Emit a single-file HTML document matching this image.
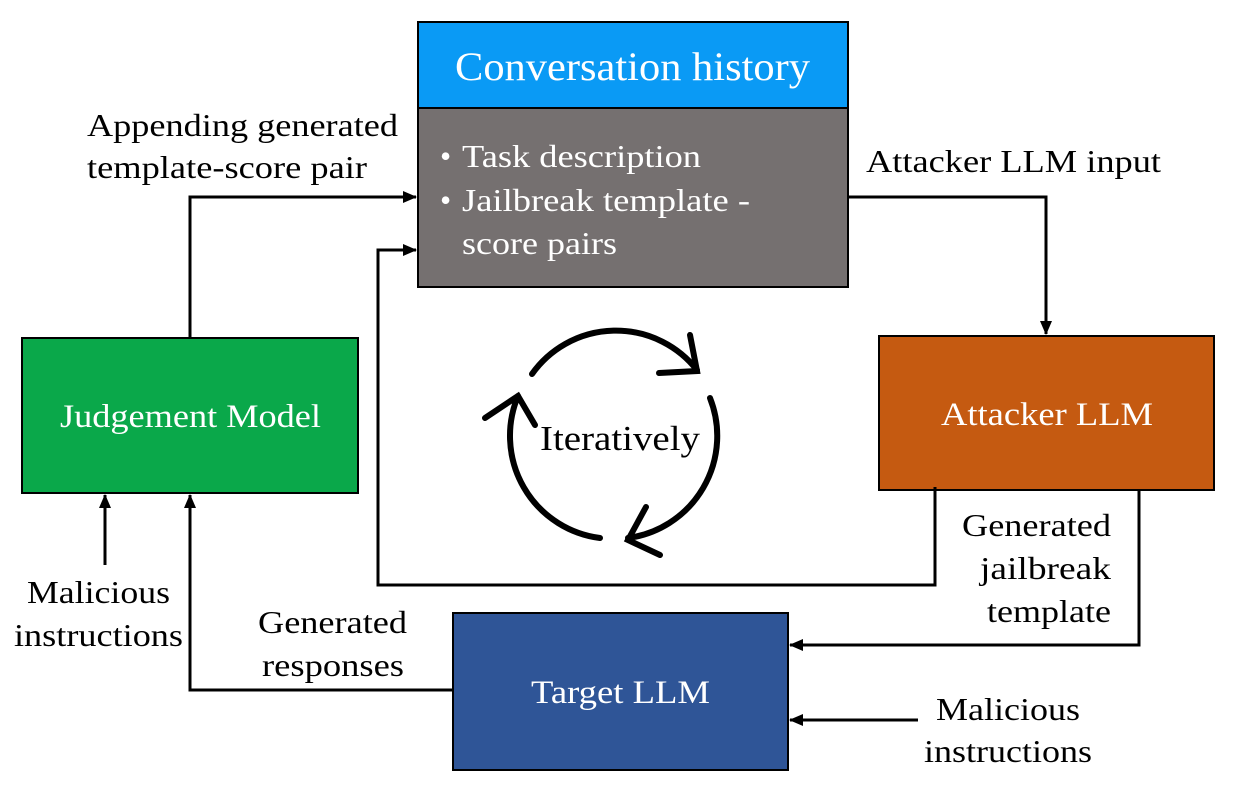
<!DOCTYPE html>
<html><head><style>
body{margin:0;background:#fff;}
svg{display:block;font-family:"Liberation Serif",serif;}
</style></head><body>
<svg width="1236" height="792" viewBox="0 0 1236 792">
<defs><marker id="a" markerWidth="14" markerHeight="12" refX="13" refY="6" orient="auto" markerUnits="userSpaceOnUse"><path d="M0,0 L14,6 L0,12 z" fill="#000"/></marker></defs>
<rect x="418" y="22" width="430" height="86" fill="#0a9af5" stroke="#000" stroke-width="2"/>
<rect x="418" y="108" width="430" height="179" fill="#757070" stroke="#000" stroke-width="2"/>
<text x="455" y="80" font-size="40" fill="#fff" textLength="355" lengthAdjust="spacingAndGlyphs">Conversation history</text>
<g font-size="32" fill="#fff">
<text x="440" y="167">•</text>
<text x="462" y="167" textLength="239" lengthAdjust="spacingAndGlyphs">Task description</text>
<text x="440" y="211">•</text>
<text x="462" y="211" textLength="288" lengthAdjust="spacingAndGlyphs">Jailbreak template -</text>
<text x="462" y="254" textLength="155" lengthAdjust="spacingAndGlyphs">score pairs</text>
</g>
<rect x="22" y="338" width="336" height="155" fill="#0aa84a" stroke="#000" stroke-width="2"/>
<text x="60" y="427" font-size="33" fill="#fff" textLength="261" lengthAdjust="spacingAndGlyphs">Judgement Model</text>
<rect x="879" y="336" width="335" height="154" fill="#c55a11" stroke="#000" stroke-width="2"/>
<text x="941" y="425" font-size="33" fill="#fff" textLength="212" lengthAdjust="spacingAndGlyphs">Attacker LLM</text>
<rect x="453" y="613" width="335" height="157" fill="#2f5597" stroke="#000" stroke-width="2"/>
<text x="531" y="703" font-size="33" fill="#fff" textLength="179" lengthAdjust="spacingAndGlyphs">Target LLM</text>
<g stroke="#000" stroke-width="3" fill="none">
<polyline points="190,338 190,197 416,197" marker-end="url(#a)"/>
<polyline points="935,487 935,585 378,585 378,250 416,250" marker-end="url(#a)"/>
<polyline points="848,197 1046,197 1046,334" marker-end="url(#a)"/>
<polyline points="1139,490 1139,645 790,645" marker-end="url(#a)"/>
<polyline points="918,720 790,720" marker-end="url(#a)"/>
<polyline points="453,690 190,690 190,495" marker-end="url(#a)"/>
<polyline points="105,565 105,495" marker-end="url(#a)"/>
</g>
<g stroke="#000" stroke-width="6" fill="none" stroke-linecap="round">
<path d="M532,374 A103,103 0 0 1 697,370"/>
<path d="M690,335 L697,371 L659,373"/>
<path d="M710,398 A103,103 0 0 1 628,538"/>
<path d="M646,507 L628,540 L660,555"/>
<path d="M600,538 A103,103 0 0 1 518,396"/>
<path d="M485,418 L518,396 L535,425"/>
</g>
<text x="540" y="450" font-size="35" textLength="160" lengthAdjust="spacingAndGlyphs">Iteratively</text>
<g font-size="32" fill="#000">
<text x="87" y="136" textLength="311" lengthAdjust="spacingAndGlyphs">Appending generated</text>
<text x="87" y="178" textLength="280" lengthAdjust="spacingAndGlyphs">template-score pair</text>
<text x="866" y="172" textLength="295" lengthAdjust="spacingAndGlyphs">Attacker LLM input</text>
<text x="962" y="536" textLength="149" lengthAdjust="spacingAndGlyphs">Generated</text>
<text x="980" y="579" textLength="131" lengthAdjust="spacingAndGlyphs">jailbreak</text>
<text x="987" y="622" textLength="124" lengthAdjust="spacingAndGlyphs">template</text>
<text x="27" y="603" textLength="143" lengthAdjust="spacingAndGlyphs">Malicious</text>
<text x="14" y="646" textLength="169" lengthAdjust="spacingAndGlyphs">instructions</text>
<text x="258" y="633" textLength="149" lengthAdjust="spacingAndGlyphs">Generated</text>
<text x="262" y="676" textLength="142" lengthAdjust="spacingAndGlyphs">responses</text>
<text x="936" y="720" textLength="144" lengthAdjust="spacingAndGlyphs">Malicious</text>
<text x="924" y="762" textLength="168" lengthAdjust="spacingAndGlyphs">instructions</text>
</g>
</svg>
</body></html>
